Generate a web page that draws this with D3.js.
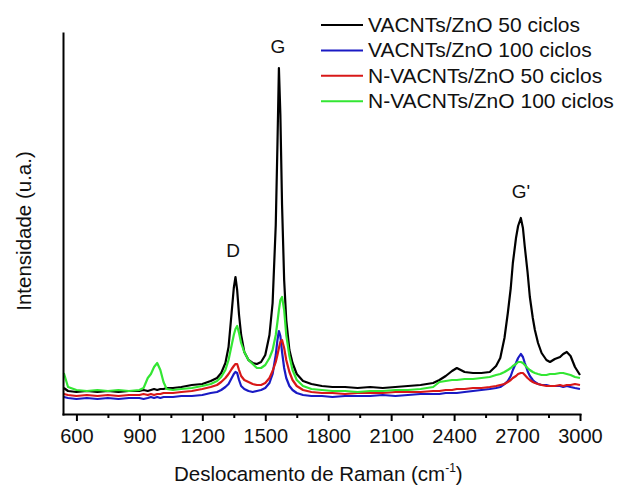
<!DOCTYPE html>
<html>
<head>
<meta charset="utf-8">
<script src="https://cdn.jsdelivr.net/npm/d3@7"></script>
<style>
  body { margin: 0; background: #fff; }
  text { font-family: "Liberation Sans", Arial, sans-serif; fill: #111; }
</style>
</head>
<body>
<div id="chart"></div>
<script>
const width = 622;
const height = 485;

// Raman shift (cm-1), shared by all spectra
const shift = [540, 560, 600, 650, 700, 750, 800, 850, 900, 920,
  940, 955, 970, 985, 1000, 1015, 1030, 1060, 1100, 1150,
  1200, 1240, 1270, 1290, 1310, 1325, 1340, 1350, 1358, 1366,
  1375, 1385, 1400, 1420, 1440, 1460, 1480, 1500, 1520, 1535,
  1550, 1558, 1565, 1572, 1580, 1590, 1600, 1615, 1630, 1650,
  1680, 1720, 1770, 1820, 1880, 1940, 2000, 2060, 2120, 2180,
  2240, 2300, 2330, 2360, 2390, 2413, 2450, 2490, 2530, 2570,
  2600, 2620, 2640, 2656, 2670, 2680, 2695, 2705, 2718, 2728,
  2737, 2750, 2761, 2775, 2785, 2800, 2817, 2840, 2857, 2880,
  2905, 2920, 2937, 2955, 2976, 3000];

// intensities (a.u.)
const vacnt50 = [26, 23, 22, 23, 22, 23, 22, 23, 23, 24,
  23, 24, 25, 24, 25, 25, 26, 26, 27, 29,
  30, 33, 36, 41, 51, 67, 102, 126, 137, 124,
  99, 79, 62, 54, 51, 50, 52, 59, 79, 111,
  189, 269, 346, 299, 209, 134, 94, 64, 51, 40,
  33, 30, 28, 27, 27, 26, 27, 26, 27, 28,
  29, 31, 34, 38, 43, 46, 42, 41, 41, 42,
  48, 56, 76, 101, 126, 151, 176, 188, 196, 186,
  167, 142, 117, 96, 84, 71, 61, 54, 52, 55,
  57, 60, 62, 58, 47, 39];

const vacnt100 = [17, 16, 15, 16, 15, 16, 15, 16, 16, 15,
  16, 17, 16, 17, 16, 17, 17, 17, 18, 18,
  19, 21, 22, 24, 27, 30, 36, 40, 42, 41,
  34, 28, 25, 23, 22, 23, 24, 26, 31, 40,
  59, 74, 83, 78, 62, 46, 36, 28, 24, 21,
  19, 18, 18, 17, 18, 18, 18, 19, 18, 19,
  20, 20, 20, 21, 21, 21, 22, 23, 24, 25,
  26, 27, 30, 33, 38, 44, 51, 56, 60, 57,
  51, 43, 38, 34, 32, 30, 29, 29, 28, 28,
  28, 27, 28, 27, 26, 25];

const nvacnt50 = [20, 19, 18, 19, 18, 19, 18, 19, 19, 20,
  19, 20, 19, 20, 20, 21, 21, 21, 22, 23,
  25, 27, 29, 32, 36, 40, 45, 48, 50, 50,
  44, 38, 34, 32, 30, 29, 29, 31, 36, 43,
  52, 59, 66, 72, 74, 66, 54, 42, 34, 28,
  24, 22, 21, 21, 20, 21, 21, 21, 22, 22,
  22, 23, 23, 24, 24, 25, 25, 26, 26, 27,
  28, 29, 30, 32, 34, 36, 38, 40, 41, 41,
  39, 36, 34, 32, 31, 30, 29, 28, 28, 28,
  29, 28, 29, 29, 30, 29];

const nvacnt100 = [41, 27, 24, 23, 24, 23, 24, 23, 24, 26,
  36, 40, 47, 51, 44, 32, 25, 24, 25, 26,
  28, 30, 33, 37, 44, 54, 69, 79, 85, 88,
  81, 71, 62, 54, 50, 46, 46, 49, 56, 64,
  79, 92, 104, 114, 117, 104, 79, 58, 44, 34,
  28, 25, 24, 23, 23, 22, 23, 23, 24, 24,
  25, 27, 32, 33, 34, 34, 35, 35, 36, 37,
  39, 40, 42, 44, 46, 48, 50, 52, 52, 51,
  49, 46, 44, 42, 41, 40, 39, 39, 40, 40,
  41, 41, 40, 39, 37, 36];

const seriesNames = ["VACNTs/ZnO 50 ciclos", "VACNTs/ZnO 100 ciclos",
  "N-VACNTs/ZnO 50 ciclos", "N-VACNTs/ZnO 100 ciclos"];
const seriesValues = [vacnt50, vacnt100, nvacnt50, nvacnt100];
const seriesColors = ["#000000", "#1a1ac4", "#d81818", "#33e633"];

const xTicks = [600, 900, 1200, 1500, 1800, 2100, 2400, 2700, 3000];
const xMinorTicks = [750, 1050, 1350, 1650, 1950, 2250, 2550, 2850];

// band labels: name, shift, intensity level of the label baseline
const bandNames = ["D", "G", "G'"];
const bandShifts = [1347, 1560, 2718];
const bandLevels = [157, 361, 216];

const x = d3.scaleLinear().domain([536, 3000]).range([63, 580]);
const y = d3.scaleLinear().domain([0, 381]).range([414, 33]);

const svg = d3.select("#chart")
  .append("svg")
  .attr("width", width)
  .attr("height", height);

const line = d3.line()
  .x((d, i) => x(shift[i]))
  .y(d => y(d));

seriesValues.forEach((values, k) => {
  svg.append("path")
    .datum(values)
    .attr("fill", "none")
    .attr("stroke", seriesColors[k])
    .attr("stroke-width", 2.2)
    .attr("stroke-linejoin", "round")
    .attr("d", line);
});

// x axis, major and minor ticks
const gx = svg.append("g")
  .attr("transform", "translate(0,414)")
  .call(d3.axisBottom(x).tickValues(xTicks).tickSize(7).tickSizeOuter(0).tickFormat(d3.format("d")));

svg.append("g")
  .attr("transform", "translate(0,414)")
  .call(d3.axisBottom(x).tickValues(xMinorTicks).tickSize(4).tickSizeOuter(0).tickFormat(""))
  .select(".domain").remove();

gx.selectAll(".tick text")
  .attr("y", 29)
  .attr("dy", 0)
  .attr("font-size", 20)
  .attr("font-family", "Liberation Sans, Arial, sans-serif");

// y axis, no ticks
const gy = svg.append("g")
  .attr("transform", "translate(63,0)")
  .call(d3.axisLeft(y).tickValues([]).tickSizeOuter(0));

svg.selectAll(".domain")
  .attr("stroke", "#000")
  .attr("stroke-width", 2)
  .attr("stroke-linecap", "square");
svg.selectAll(".tick line")
  .attr("stroke", "#000")
  .attr("stroke-width", 2);

// axis titles
const xTitle = svg.append("text")
  .attr("x", 174)
  .attr("y", 481)
  .attr("font-size", 20.5);
xTitle.append("tspan").text("Deslocamento de Raman (cm");
xTitle.append("tspan").attr("dy", -9).attr("font-size", 12).text("-1");
xTitle.append("tspan").attr("dy", 9).text(")");

svg.append("text")
  .attr("transform", "translate(31,231) rotate(-90)")
  .attr("text-anchor", "middle")
  .attr("font-size", 20.5)
  .text("Intensidade (u.a.)");

// band labels
svg.selectAll(".band")
  .data(bandNames)
  .enter()
  .append("text")
  .attr("class", "band")
  .attr("x", (d, i) => x(bandShifts[i]))
  .attr("y", (d, i) => y(bandLevels[i]))
  .attr("text-anchor", "middle")
  .attr("font-size", 19)
  .text(d => d);

// legend
const legend = svg.append("g").attr("transform", "translate(321,25)");
seriesNames.forEach((name, k) => {
  const row = legend.append("g").attr("transform", `translate(0,${k * 25.4})`);
  row.append("line")
    .attr("x1", 0).attr("x2", 42)
    .attr("y1", 0).attr("y2", 0)
    .attr("stroke", seriesColors[k])
    .attr("stroke-width", 2);
  row.append("text")
    .attr("x", 47)
    .attr("y", 7)
    .attr("font-size", 21)
    .text(name);
});
</script>
</body>
</html>
